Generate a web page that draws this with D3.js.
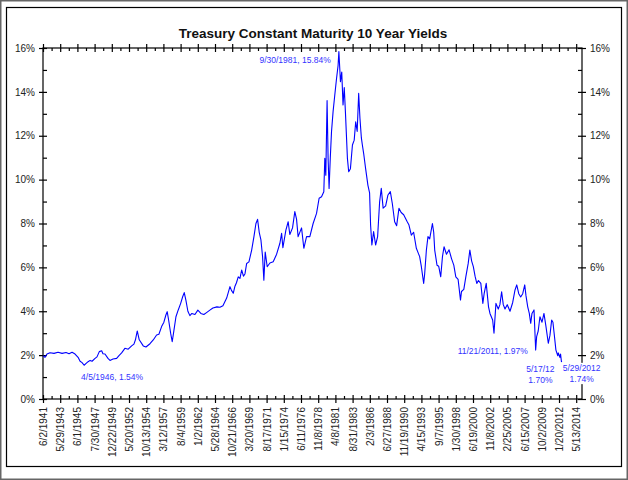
<!DOCTYPE html>
<html>
<head>
<meta charset="utf-8">
<script src="https://cdn.jsdelivr.net/npm/d3@7"></script>
<style>
  body { margin: 0; background: #fff; }
  svg text { font-family: "Liberation Sans", Arial, sans-serif; }
</style>
</head>
<body>
<script>
// x axis labels (category axis in the original, one label every N observations)
const tickLabels = [
    "6/2/1941", "5/29/1943", "6/1/1945", "7/30/1947", "12/22/1949", "5/20/1952",
    "10/13/1954", "3/12/1957", "8/4/1959", "1/2/1962", "5/28/1964", "10/21/1966",
    "3/20/1969", "8/17/1971", "1/15/1974", "6/11/1976", "11/8/1978", "4/8/1981",
    "8/31/1983", "2/3/1986", "6/27/1988", "11/19/1990", "4/15/1993", "9/7/1995",
    "1/30/1998", "6/19/2000", "11/8/2002", "2/25/2005", "6/15/2007", "10/2/2009",
    "1/20/2012", "5/13/2014"
];

const yTicks = [0, 2, 4, 6, 8, 10, 12, 14, 16];

// [decimal year, 10y yield %]
const yieldSeries = [
    [1941.42, 1.98], [1941.65, 1.90], [1941.88, 2.05], [1942.23, 2.11], [1942.69, 2.08],
    [1943.16, 2.13], [1943.62, 2.08], [1944.09, 2.12], [1944.44, 2.06], [1944.79, 2.13],
    [1945.14, 2.05], [1945.50, 1.90], [1945.75, 1.72], [1946.00, 1.66], [1946.26, 1.54],
    [1946.51, 1.62], [1946.76, 1.70], [1947.01, 1.76], [1947.26, 1.72], [1947.64, 1.85],
    [1947.91, 1.92], [1948.23, 2.16], [1948.56, 2.20], [1948.74, 2.06], [1949.02, 2.05],
    [1949.44, 1.85], [1949.72, 1.76], [1950.14, 1.82], [1950.65, 1.85], [1950.98, 1.98],
    [1951.35, 2.10], [1951.81, 2.31], [1952.27, 2.27], [1952.75, 2.42], [1953.07, 2.50],
    [1953.28, 2.70], [1953.53, 3.10], [1953.81, 2.70], [1954.37, 2.42], [1954.75, 2.37],
    [1955.31, 2.52], [1955.77, 2.69], [1956.24, 2.92], [1956.56, 2.95], [1956.94, 3.30],
    [1957.26, 3.50], [1957.54, 3.83], [1957.72, 3.98], [1957.92, 3.60], [1958.20, 3.00],
    [1958.42, 2.61], [1958.66, 3.13], [1958.94, 3.75], [1959.26, 4.06], [1959.60, 4.36],
    [1959.88, 4.66], [1960.10, 4.85], [1960.33, 4.51], [1960.61, 4.00], [1960.89, 3.80],
    [1961.17, 3.90], [1961.60, 3.85], [1962.01, 4.05], [1962.43, 3.90], [1962.85, 3.85],
    [1963.27, 3.95], [1963.69, 4.05], [1964.11, 4.15], [1964.67, 4.20], [1965.09, 4.18],
    [1965.51, 4.25], [1966.03, 4.60], [1966.49, 5.12], [1966.70, 4.95], [1966.95, 4.82],
    [1967.19, 5.14], [1967.40, 5.30], [1967.65, 5.57], [1967.89, 5.50], [1968.13, 5.88],
    [1968.38, 5.60], [1968.59, 5.70], [1968.83, 6.18], [1969.15, 6.25], [1969.53, 6.79],
    [1969.85, 7.40], [1970.13, 8.00], [1970.36, 8.19], [1970.59, 7.60], [1970.83, 7.25],
    [1971.06, 6.49], [1971.24, 5.42], [1971.43, 6.70], [1971.71, 6.03], [1972.09, 6.20],
    [1972.55, 6.26], [1973.03, 6.60], [1973.49, 7.10], [1973.73, 7.55], [1973.91, 6.90],
    [1974.33, 7.70], [1974.65, 8.08], [1974.88, 7.50], [1975.26, 7.80], [1975.58, 8.54],
    [1975.82, 8.20], [1976.04, 7.40], [1976.52, 7.80], [1976.84, 6.87], [1977.22, 7.40],
    [1977.68, 7.40], [1978.14, 8.00], [1978.62, 8.46], [1978.98, 9.15], [1979.32, 9.22],
    [1979.64, 9.45], [1979.78, 10.97], [1979.92, 10.20], [1980.10, 13.60], [1980.24, 11.00],
    [1980.38, 9.60], [1980.55, 11.00], [1980.72, 12.18], [1980.94, 13.10], [1981.18, 13.86],
    [1981.42, 14.60], [1981.64, 15.20], [1981.75, 15.84], [1981.97, 14.46], [1982.15, 14.90],
    [1982.33, 13.40], [1982.50, 14.20], [1982.66, 13.10], [1982.80, 12.03], [1982.94, 10.97],
    [1983.12, 10.36], [1983.36, 10.50], [1983.64, 11.58], [1983.89, 11.80], [1984.10, 12.64],
    [1984.31, 12.20], [1984.52, 13.93], [1984.70, 12.80], [1984.90, 11.90], [1985.04, 11.58],
    [1985.22, 11.20], [1985.50, 10.50], [1985.82, 9.75], [1986.06, 9.40], [1986.20, 7.93],
    [1986.38, 7.02], [1986.62, 7.63], [1986.90, 7.02], [1987.18, 7.40], [1987.46, 8.99],
    [1987.69, 9.60], [1987.95, 8.70], [1988.30, 8.80], [1988.62, 9.30], [1988.95, 9.45],
    [1989.23, 8.90], [1989.55, 8.08], [1989.83, 7.90], [1990.15, 8.69], [1990.46, 8.50],
    [1990.81, 8.40], [1991.27, 8.10], [1991.55, 7.93], [1991.88, 7.47], [1992.20, 7.60],
    [1992.58, 6.87], [1992.86, 6.64], [1993.04, 6.49], [1993.28, 6.03], [1993.60, 5.27],
    [1993.74, 5.70], [1993.98, 6.79], [1994.20, 7.40], [1994.44, 7.30], [1994.82, 8.00],
    [1995.00, 7.60], [1995.14, 6.79], [1995.46, 6.10], [1995.70, 6.05], [1995.98, 5.57],
    [1996.22, 6.49], [1996.44, 6.94], [1996.78, 6.60], [1997.14, 6.80], [1997.48, 6.40],
    [1997.80, 6.10], [1998.08, 5.57], [1998.40, 5.45], [1998.73, 4.51], [1998.87, 4.90],
    [1999.19, 5.00], [1999.47, 5.57], [1999.80, 6.18], [2000.03, 6.79], [2000.27, 6.30],
    [2000.51, 6.03], [2000.75, 5.60], [2000.99, 5.27], [2001.22, 5.40], [2001.55, 5.27],
    [2001.83, 4.36], [2002.01, 4.80], [2002.30, 5.27], [2002.62, 4.20], [2002.82, 3.90],
    [2003.18, 3.60], [2003.36, 3.00], [2003.62, 4.36], [2003.93, 4.10], [2004.15, 4.30],
    [2004.38, 4.89], [2004.60, 4.30], [2004.83, 4.10], [2005.13, 4.30], [2005.50, 4.00],
    [2005.86, 4.40], [2006.17, 4.97], [2006.40, 5.20], [2006.67, 4.80], [2006.93, 4.65],
    [2007.20, 4.80], [2007.47, 5.20], [2007.64, 4.70], [2007.87, 4.20], [2008.08, 3.90],
    [2008.27, 3.45], [2008.44, 3.90], [2008.71, 4.06], [2008.93, 2.23], [2009.06, 2.84],
    [2009.27, 3.10], [2009.50, 3.75], [2009.78, 3.50], [2010.04, 3.90], [2010.31, 3.30],
    [2010.62, 2.54], [2010.84, 2.90], [2011.07, 3.60], [2011.24, 3.50], [2011.40, 3.00],
    [2011.64, 2.23], [2011.89, 1.97], [2011.96, 2.10], [2012.07, 2.00], [2012.17, 1.90],
    [2012.26, 2.05], [2012.38, 1.70], [2012.41, 1.74]
];

// callouts: date, yield, text lines
const noteDates = ["9/30/1981", "4/5/1946", "11/21/2011", "5/17/2012", "5/29/2012"];
const noteValues = [15.84, 1.54, 1.97, 1.70, 1.74];
const noteTexts = [
    ["9/30/1981, 15.84%"],
    ["4/5/1946, 1.54%"],
    ["11/21/2011, 1.97%"],
    ["5/17/12", "1.70%"],
    ["5/29/2012", "1.74%"]
];

const width = 628;
const height = 480;
const margin = { top: 48, right: 46, bottom: 81, left: 43 };
const step = 17.2;   // pixel gap between labelled ticks

const parseDate = d3.timeParse("%m/%d/%Y");
const tickDates = tickLabels.map(parseDate);

function yearToDate(y) {
    const yr = Math.floor(y);
    const a = new Date(yr, 0, 1), b = new Date(yr + 1, 0, 1);
    return new Date(+a + (y - yr) * (b - a));
}

const svg = d3.select("body")
    .append("svg")
    .attr("width", width)
    .attr("height", height);

// outer frame
svg.append("rect")
    .attr("x", 0.5).attr("y", 0.5)
    .attr("width", width - 1).attr("height", height - 1)
    .attr("fill", "#fff")
    .attr("stroke", "#666")
    .attr("stroke-width", 2);

svg.append("rect")
    .attr("x", 6.5).attr("y", 7.5)
    .attr("width", 615).attr("height", 459)
    .attr("fill", "none")
    .attr("stroke", "#000")
    .attr("stroke-width", 1.2);

svg.append("text")
    .attr("x", 313).attr("y", 38)
    .attr("text-anchor", "middle")
    .attr("font-size", "13.5px")
    .attr("font-weight", "bold")
    .attr("fill", "#111")
    .text("Treasury Constant Maturity 10 Year Yields");

const x0 = margin.left;
const x1 = width - margin.right;       // right axis position
const y0 = height - margin.bottom;     // 0% line
const y1 = margin.top;

// piecewise time scale: labelled dates are evenly spaced like the original category axis
const xScale = d3.scaleTime()
    .domain(tickDates)
    .range(tickDates.map((d, i) => x0 + i * step));

const yScale = d3.scaleLinear()
    .domain([0, 16])
    .range([y0, y1]);

const minorX = tickDates.slice(1).map((d, i) => new Date((+d + +tickDates[i]) / 2));
const minorY = yTicks.slice(1).map(v => v - 1);

// frame of the plot
svg.append("rect")
    .attr("x", x0).attr("y", y1)
    .attr("width", x1 - x0).attr("height", y0 - y1)
    .attr("fill", "none")
    .attr("stroke", "#000")
    .attr("stroke-width", 1.2);

function tickStyle(g) {
    g.select(".domain").remove();
    g.selectAll("line").attr("stroke", "#000").attr("stroke-width", 1.2);
    g.selectAll("text").attr("fill", "#222").attr("font-size", "10px")
        .attr("font-family", "'Liberation Sans', Arial, sans-serif");
}

// bottom axis
const xAxis = svg.append("g")
    .attr("transform", `translate(0,${y0})`)
    .call(d3.axisBottom(xScale).tickValues(tickDates).tickSize(4).tickSizeOuter(0)
        .tickFormat((d, i) => tickLabels[i]))
    .call(tickStyle);
xAxis.selectAll("line").attr("y1", -4);
xAxis.selectAll("text")
    .attr("transform", "rotate(-90)")
    .attr("text-anchor", "end")
    .attr("x", -8).attr("y", 0).attr("dy", "0.35em");

svg.append("g")
    .attr("transform", `translate(0,${y0})`)
    .call(d3.axisBottom(xScale).tickValues(minorX).tickSize(0).tickFormat(""))
    .call(tickStyle)
    .selectAll("line").attr("y1", -3).attr("y2", 0);

// top axis (ticks only)
svg.append("g")
    .attr("transform", `translate(0,${y1})`)
    .call(d3.axisTop(xScale).tickValues(tickDates).tickSize(4).tickFormat(""))
    .call(tickStyle)
    .selectAll("line").attr("y1", 4);

svg.append("g")
    .attr("transform", `translate(0,${y1})`)
    .call(d3.axisTop(xScale).tickValues(minorX).tickSize(0).tickFormat(""))
    .call(tickStyle)
    .selectAll("line").attr("y1", 3).attr("y2", 0);

// left axis
const pct = d => d + "%";
svg.append("g")
    .attr("transform", `translate(${x0},0)`)
    .call(d3.axisLeft(yScale).tickValues(yTicks).tickSize(4).tickPadding(4).tickFormat(pct))
    .call(tickStyle)
    .selectAll("line").attr("x1", 4);

svg.append("g")
    .attr("transform", `translate(${x0},0)`)
    .call(d3.axisLeft(yScale).tickValues(minorY).tickSize(0).tickFormat(""))
    .call(tickStyle)
    .selectAll("line").attr("x1", 4).attr("x2", 0);

// right axis
svg.append("g")
    .attr("transform", `translate(${x1},0)`)
    .call(d3.axisRight(yScale).tickValues(yTicks).tickSize(4).tickPadding(4).tickFormat(pct))
    .call(tickStyle)
    .selectAll("line").attr("x1", -4);

svg.append("g")
    .attr("transform", `translate(${x1},0)`)
    .call(d3.axisRight(yScale).tickValues(minorY).tickSize(0).tickFormat(""))
    .call(tickStyle)
    .selectAll("line").attr("x1", -4).attr("x2", 0);

// the series
const line = d3.line()
    .x(d => xScale(yearToDate(d[0])))
    .y(d => yScale(d[1]));

svg.append("path")
    .datum(yieldSeries)
    .attr("fill", "none")
    .attr("stroke", "#0000ff")
    .attr("stroke-width", 1.1)
    .attr("stroke-linejoin", "round")
    .attr("d", line);

// callouts
const noteLayout = [
    { dx: -8, dy: 11, anchor: "end" },
    { dx: -3, dy: 15, anchor: "start" },
    { dx: -30, dy: -2, anchor: "end" },
    { dx: -21, dy: 10, anchor: "middle" },
    { dx: 20, dy: 10, anchor: "middle" }
];

noteDates.forEach((nd, i) => {
    const px = xScale(parseDate(nd));
    const py = yScale(noteValues[i]);
    const lay = noteLayout[i];
    const g = svg.append("g");
    const bg = g.append("rect").attr("fill", "#fff");
    const t = g.append("text")
        .attr("x", px + lay.dx)
        .attr("y", py + lay.dy)
        .attr("text-anchor", lay.anchor)
        .attr("font-size", "8.5px")
        .attr("fill", "#3333ff");
    noteTexts[i].forEach((s, j) => {
        t.append("tspan")
            .attr("x", px + lay.dx)
            .attr("dy", j === 0 ? 0 : 11.3)
            .text(s);
    });
    const bb = t.node().getBBox();
    bg.attr("x", bb.x - 1).attr("y", bb.y)
        .attr("width", bb.width + 2).attr("height", bb.height);
});
</script>
</body>
</html>
